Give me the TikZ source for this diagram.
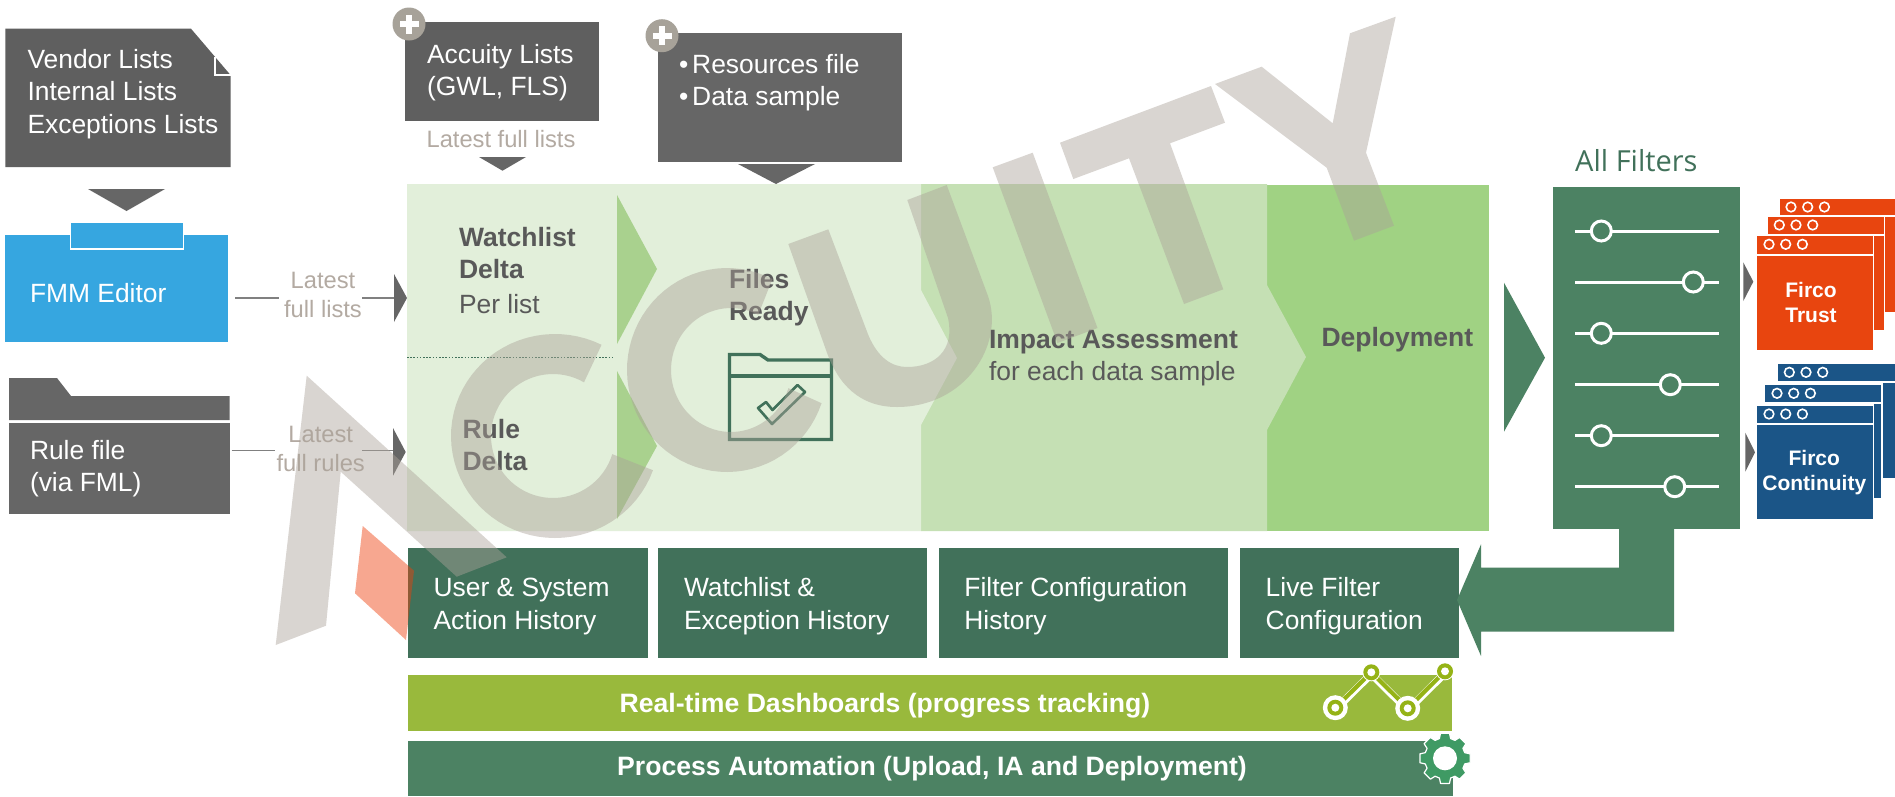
\documentclass[tikz,border=0pt]{standalone}
\usepackage{fontspec}
\setmainfont{Liberation Sans}
\newfontfamily\opensans{Open Sans}
\definecolor{darkbox}{HTML}{5F5F5F}
\definecolor{midgrey}{HTML}{666666}
\definecolor{fmmblue}{HTML}{36A6E0}
\definecolor{tabgrey}{HTML}{A7A299}
\definecolor{labelgrey}{HTML}{B3AAA2}
\definecolor{paneltext}{HTML}{595959}
\definecolor{panellight}{HTML}{E2EFDA}
\definecolor{panelmid}{HTML}{C5E0B4}
\definecolor{paneldeep}{HTML}{A0D283}
\definecolor{chevron}{HTML}{A9D18E}
\definecolor{histgreen}{HTML}{41715A}
\definecolor{filtergreen}{HTML}{4C8263}
\definecolor{dashgreen}{HTML}{99B93C}
\definecolor{icongreen}{HTML}{95B316}
\definecolor{geargreen}{HTML}{3F9A64}
\definecolor{fircored}{HTML}{E8450F}
\definecolor{fircoblue}{HTML}{1B5587}
\definecolor{wmgrey}{HTML}{ABA299}
\definecolor{wmred}{HTML}{EE3E09}
\tikzset{
  box/.style={rectangle,inner sep=0pt,outer sep=0pt,anchor=north west},
  wtext/.style={anchor=base west,inner sep=0pt,outer sep=0pt,align=left,text=white,font=\fontsize{26.4}{32.3}\selectfont},
  ptext/.style={anchor=base west,inner sep=0pt,outer sep=0pt,align=left,text=paneltext,font=\fontsize{26.4}{32}\selectfont},
  pbold/.style={ptext,font=\fontsize{26.5}{32}\selectfont\bfseries},
  ltext/.style={anchor=base,inner sep=0pt,outer sep=0pt,align=center,text=labelgrey,font=\fontsize{23.7}{29}\selectfont},
  bartext/.style={anchor=base,inner sep=0pt,outer sep=0pt,text=white,font=\fontsize{26.6}{32}\selectfont\bfseries},
  firtext/.style={anchor=base,inner sep=0pt,outer sep=0pt,align=center,text=white,font=\fontsize{21}{25.5}\selectfont\bfseries},
  conn/.style={draw=black!50,line width=1.5pt},
  wm/.style={fill=wmgrey,fill opacity=.45},
}
\newcommand{\plusbadge}[3]{%
  \node[circle,fill=tabgrey,minimum size=33pt,inner sep=0pt] (#1) at (#2,#3) {};
  \fill[white] (#2-9.5,#3-3) rectangle (#2+9.5,#3+3);
  \fill[white] (#2-3,#3-9.5) rectangle (#2+3,#3+9.5);
}
\newcommand{\winpane}[7]{% colour, left, right, top, bar bottom, bottom, circle offset
  \fill[#1,draw=white,line width=1.6pt] (#2,#4) rectangle (#3,#6);
  \draw[white,line width=2pt] (#2,#5) -- (#3,#5);
  \foreach \k in {0,1,2}{\draw[white,line width=1.6pt] ({#2+#7+16.7*\k},{#4+9.3}) circle[radius=4.8];}
}
\begin{document}
\begin{tikzpicture}[x=1pt,y=-1pt]
\path[use as bounding box,fill=white] (0,0) rectangle (1895,796);

% ---- process panels
\fill[paneldeep] (1267,185) rectangle (1489,531);
\fill[panelmid] (921,184) -- (1267,184) -- (1267,285) -- (1306,357) -- (1267,430) -- (1267,531) -- (921,531) -- cycle;
\fill[panellight] (407,184) -- (921,184) -- (921,290) -- (957,358) -- (921,425) -- (921,531) -- (407,531) -- cycle;
\fill[chevron] (617,195) -- (657,269) -- (617,344) -- cycle;
\fill[chevron] (617,371) -- (657,446) -- (617,519) -- cycle;
\coordinate (dotA) at (407,357.7);
\coordinate (dotB) at (613,357.7);
\draw[histgreen,line width=1.5pt,dash pattern=on 1.6pt off 1.6pt] (dotA) -- (dotB);

% ---- vendor lists
\fill[darkbox] (5.4,28.7) -- (191,28.7) -- (230.5,75) -- (230.5,167) -- (5.4,167) -- cycle;
\draw[white,line width=1.4pt] (215,57) -- (215,75) -- (230.5,75);
\node[wtext] (vendor) at (27.5,133.2) {Vendor Lists\\Internal Lists\\Exceptions Lists};
\fill[midgrey] (88,189) -- (165,189) -- (126.5,211) -- cycle;

% ---- FMM editor
\node[box,fill=fmmblue,minimum width=223pt,minimum height=107pt] (fmm) at (5.4,235) {};
\node[box,fill=fmmblue,draw=white,line width=1.5pt,minimum width=113pt,minimum height=27pt] (fmmtab) at (70.5,222) {};
\node[wtext] (fmmtext) at (30,302.7) {FMM Editor};
\coordinate (fmmout) at (235,298);
\coordinate (fmmin) at (394,298);
\node[ltext] (lab1) at (323,317.5) {Latest\\full lists};
\draw[conn] (fmmout) -- (278.6,298);
\draw[conn] (362,298) -- (fmmin);
\fill[midgrey] (fmmin) ++(0,-24) -- ++(13,24) -- ++(-13,24) -- cycle;

% ---- rule file
\fill[midgrey] (9,378) -- (57,378) -- (71,396) -- (229.5,396) -- (229.5,420) -- (9,420) -- cycle;
\node[box,fill=midgrey,minimum width=220.5pt,minimum height=91.3pt] (rule) at (9,422.7) {};
\node[wtext] (ruletext) at (30,491.5) {Rule file\\(via FML)};
\coordinate (ruleout) at (231.5,450.7);
\coordinate (rulein) at (393,450.7);
\node[ltext] (lab2) at (320.7,471.5) {Latest\\full rules};
\draw[conn] (ruleout) -- (274.6,450.7);
\draw[conn] (362,450.7) -- (rulein);
\fill[midgrey] (393,428) -- (405.7,452) -- (393,475.7) -- cycle;

% ---- accuity
\node[box,fill=darkbox,minimum width=194pt,minimum height=98.7pt] (accuity) at (405,22) {};
\plusbadge{plusA}{409}{24}
\node[wtext] (acctext) at (427,95.5) {Accuity Lists\\(GWL, FLS)};
\node[ltext] (lab3) at (501,147.6) {Latest full lists};
\fill[midgrey] (479,157) -- (526,157) -- (502.5,170.7) -- cycle;

% ---- resources
\node[box,fill=midgrey,minimum width=244pt,minimum height=129.3pt] (res) at (658,32.7) {};
\plusbadge{plusB}{662}{35.7}
\node[wtext] (restext) at (679,105.3) {•\kern4pt Resources file\\•\kern4pt Data sample};
\fill[midgrey] (738,164) -- (815,164) -- (776,184) -- cycle;

% ---- panel text
\node[pbold] (wl) at (459,278.8) {Watchlist\\Delta};
\node[ptext] (pl) at (459,313) {Per list};
\node[pbold] (rd) at (462.6,470) {Rule\\Delta};
\node[pbold] (fr) at (729,320) {Files\\Ready};
\node[pbold] (ia) at (989,348) {Impact Assessment};
\node[ptext] (ib) at (989,380) {for each data sample};
\node[pbold] (dp) at (1321.5,346) {Deployment};

% ---- folder-check icon
\draw[histgreen,line width=3.4pt,line join=miter] (729.5,354.5) -- (760,354.5) -- (768,360) -- (831.5,360) -- (831.5,439.5) -- (729.5,439.5) -- cycle;
\draw[histgreen,line width=3.4pt] (729.5,376) -- (831.5,376);
\draw[histgreen,line width=2.6pt,line join=round] (758,408) -- (772,424) -- (805,392) -- (797.5,385) -- (772.5,410) -- (766,402) -- cycle;

% ---- history boxes
\node[box,fill=histgreen,minimum width=240.2pt,minimum height=110pt] (h1) at (407.5,547.7) {};
\node[box,fill=histgreen,minimum width=269.5pt,minimum height=110pt] (h2) at (657.5,547.7) {};
\node[box,fill=histgreen,minimum width=289pt,minimum height=110pt] (h3) at (939,547.7) {};
\node[box,fill=histgreen,minimum width=219pt,minimum height=110pt] (h4) at (1240,547.7) {};
\node[wtext] (h1t) at (433.6,629.2) {User \& System\\Action History};
\node[wtext] (h2t) at (684,629.2) {Watchlist \&\\Exception History};
\node[wtext] (h3t) at (964.4,629.2) {Filter Configuration\\History};
\node[wtext] (h4t) at (1265.7,629.2) {Live Filter\\Configuration};

% ---- bars
\node[box,fill=dashgreen,minimum width=1044.5pt,minimum height=55.7pt] (dash) at (407.5,675) {};
\node[box,fill=filtergreen,minimum width=1045pt,minimum height=55pt] (proc) at (408,741) {};
\node[bartext] (dasht) at (885,712) {Real-time Dashboards (progress tracking)};
\node[bartext] (proct) at (932,775) {Process Automation (Upload, IA and Deployment)};

% line icon
\draw[white,line width=7.5pt,line join=round] (1335.3,709.5) -- (1371.3,674) -- (1407.7,710) -- (1445,673);
\draw[icongreen,line width=4.2pt,line join=round] (1335.3,707.7) -- (1371.3,672.3) -- (1407.7,708.3) -- (1445,671.3);
\foreach \px/\py/\rr in {1335.3/707.7/12.5,1371.3/672.3/9,1407.7/708.3/12.5,1445/671.3/9}{
  \fill[white] (\px,\py) circle[radius=\rr];
  \fill[icongreen] (\px,\py) circle[radius=8];
  \fill[white] (\px,\py) circle[radius=4];
}
% gear icon
\fill[geargreen,draw=white,line width=1.2pt,line join=round]
  ({1445+20.5*cos(-16)},{758.3+20.5*sin(-16)})
  \foreach \a in {0,45,...,315}{
    -- ({1445+20.5*cos(\a-16)},{758.3+20.5*sin(\a-16)})
    -- ({1445+25.5*cos(\a-10)},{758.3+25.5*sin(\a-10)})
    -- ({1445+25.5*cos(\a+10)},{758.3+25.5*sin(\a+10)})
    -- ({1445+20.5*cos(\a+16)},{758.3+20.5*sin(\a+16)})
  } -- cycle;
\fill[white] (1445,758.3) circle[radius=12];

% ---- all filters
\node[anchor=base west,inner sep=0pt,text=histgreen,font=\opensans\fontsize{29}{34}\selectfont] (alltext) at (1575,171.7) {All Filters};
\fill[filtergreen] (1504,282.7) -- (1545,357.7) -- (1504,431.7) -- cycle;
\node[box,fill=filtergreen,minimum width=186.7pt,minimum height=342pt] (filters) at (1553.3,187.3) {};
\foreach \sy/\kx in {231/1601.3,282/1693.3,333.3/1601.3,384.7/1670.3,435.7/1601.3,486.7/1674.7}{
  \draw[white,line width=3pt] (1575,\sy) -- (1719.3,\sy);
  \draw[white,line width=3pt,fill=filtergreen] (\kx,\sy) circle[radius=10];
}
% return arrow
\fill[filtergreen] (1619,529) -- (1674,529) -- (1674,631.7) -- (1481,631.7) -- (1481,656) -- (1457,600) -- (1481,544.3) -- (1481,567.7) -- (1619,567.7) -- cycle;

% ---- firco arrows
\fill[midgrey] (1743.3,262.3) -- (1753.3,281.7) -- (1743.3,301) -- cycle;
\fill[midgrey] (1745.3,432.7) -- (1755,452.3) -- (1745.3,471.7) -- cycle;

% ---- firco trust windows
\winpane{fircored}{1779}{1900}{197.7}{216}{312.7}{12}
\winpane{fircored}{1767}{1884.5}{215.7}{235}{330.7}{12.3}
\winpane{fircored}{1756}{1873.5}{235}{254.5}{350.7}{13}
\node[firtext] (ft) at (1811,322.7) {Firco\\Trust};

% ---- firco continuity windows
\winpane{fircoblue}{1777}{1900}{363}{382}{478.7}{12.3}
\winpane{fircoblue}{1764}{1881.7}{384}{403}{498.7}{13}
\winpane{fircoblue}{1756}{1873.5}{404.7}{424}{519.7}{13}
\node[firtext] (fc) at (1814.3,490.7) {Firco\\Continuity};

% ---- watermark
\fill[wmred,fill opacity=.45] (362.7,526) -- (414,570.7) -- (406,640) -- (355,593.3) -- cycle;
% A
\fill[wm] (306.7,375.7) -- (506.7,557.3) -- (456.7,576.7) -- (340.7,471.7) -- (326,625.7) -- (275.7,645) -- cycle;
% C 1
\fill[wm] plot[domain=63.4:340.4,samples=60] ({555+104*cos(\x)},{436-102*sin(\x)})
  -- plot[domain=343:60,samples=60] ({553+62*cos(\x)},{436-62*sin(\x)}) -- cycle;
% C 2
\fill[wm] plot[domain=63:341,samples=60] ({727+100*cos(\x)},{370-102*sin(\x)})
  -- plot[domain=343:63,samples=60] ({731+60*cos(\x)},{370-62*sin(\x)}) -- cycle;
% U
\fill[wm] (788.3,244) -- (828.3,229.3) -- (868.3,335) .. controls (878,358) and (892,367) .. (907,367)
  .. controls (935,367) and (955,350) .. (948,318) -- (907.3,200) -- (946.7,185) -- (988,296)
  .. controls (1005,345) and (965,407) .. (897,407) .. controls (860,407) and (838,385) .. (826,350) -- cycle;
% I
\fill[wm] (992.7,167.3) -- (1032.7,152.7) -- (1097.5,328) -- (1057.5,343) -- cycle;
% T
\fill[wm] (1060,142.7) -- (1211,86) -- (1225,122.7) -- (1170,143.3) -- (1223.3,289.3) -- (1184,304) -- (1129,158.3) -- (1073.3,179) -- cycle;
% Y
\fill[wm] (1215,84) -- (1261.7,66.7) -- (1332.7,123.3) -- (1350,33.3) -- (1395.7,16.7) -- (1366,152.7) -- (1394,225.7) -- (1354,240.7) -- (1326.7,167.7) -- cycle;
\end{tikzpicture}
\end{document}
